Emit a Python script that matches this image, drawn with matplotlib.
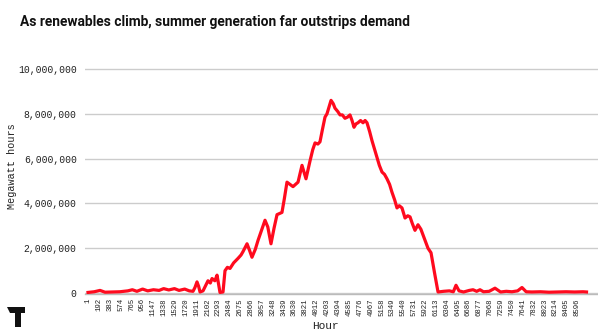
import matplotlib
matplotlib.use("Agg")
import matplotlib.pyplot as plt
from matplotlib.patches import Polygon

# ---- data ----
hours = [1, 110, 212, 300, 420, 560, 700, 780, 860, 960, 1050, 1150, 1250, 1330,
         1420, 1520, 1600, 1700, 1780, 1846, 1880, 1916, 1945, 1969, 2022, 2070,
         2109, 2150, 2180, 2230, 2268, 2295, 2320, 2373, 2408, 2450, 2496, 2560,
         2637, 2690, 2724, 2795, 2840, 2882, 2940, 2988, 3050, 3111, 3160, 3216,
         3270, 3322, 3409, 3450, 3497, 3550, 3603, 3691, 3761, 3831, 3902, 3950,
         3990, 4040, 4077, 4120, 4165, 4200, 4271, 4310, 4341, 4390, 4429, 4470,
         4516, 4560, 4604, 4640, 4675, 4710, 4745, 4790, 4833, 4870, 4903, 4950,
         4991, 5079, 5120, 5167, 5210, 5254, 5300, 5342, 5390, 5430, 5470, 5518,
         5571, 5620, 5659, 5700, 5746, 5799, 5850, 5887, 5930, 5975, 6028, 6090,
         6151, 6250, 6350, 6420, 6467, 6520, 6600, 6700, 6766, 6830, 6889, 6950,
         7050, 7152, 7250, 7350, 7450, 7550, 7626, 7700, 7800, 7950, 8100, 8250,
         8400, 8550, 8700, 8760]

surplus_mwh_millions = [
    0.03, 0.06, 0.12, 0.04, 0.05, 0.06, 0.10, 0.15, 0.08, 0.18, 0.10, 0.15, 0.12, 0.20,
    0.14, 0.20, 0.12, 0.18, 0.10, 0.08, 0.25, 0.50, 0.30, 0.05, 0.10, 0.35,
    0.55, 0.45, 0.65, 0.55, 0.80, 0.40, 0.03, 0.05, 1.00, 1.15, 1.10, 1.35,
    1.55, 1.70, 1.85, 2.20, 1.90, 1.60, 1.95, 2.35, 2.80, 3.25, 2.95, 2.20,
    2.90, 3.50, 3.60, 4.20, 4.95, 4.85, 4.75, 4.95, 5.70, 5.10, 5.90, 6.40,
    6.70, 6.65, 6.75, 7.30, 7.85, 8.00, 8.60, 8.45, 8.25, 8.10, 7.95, 7.95,
    7.80, 7.85, 7.95, 7.70, 7.40, 7.55, 7.60, 7.70, 7.60, 7.70, 7.60, 7.20,
    6.80, 6.05, 5.70, 5.40, 5.30, 5.10, 4.85, 4.50, 4.15, 3.80, 3.90, 3.80,
    3.35, 3.45, 3.40, 3.10, 2.80, 3.05, 2.85, 2.60, 2.30, 2.00, 1.80, 0.90,
    0.05, 0.08, 0.10, 0.06, 0.35, 0.10, 0.05, 0.12, 0.15, 0.08, 0.15, 0.06,
    0.08, 0.22, 0.05, 0.08, 0.06, 0.10, 0.25, 0.06, 0.05, 0.06, 0.04, 0.05,
    0.06, 0.05, 0.06, 0.05]

x_ticks = [1, 192, 383, 574, 765, 956, 1147, 1338, 1529, 1720, 1911, 2102, 2293,
           2484, 2675, 2866, 3057, 3248, 3439, 3630, 3821, 4012, 4203, 4394, 4585,
           4776, 4967, 5158, 5349, 5540, 5731, 5922, 6113, 6304, 6495, 6686, 6877,
           7068, 7259, 7450, 7641, 7832, 8023, 8214, 8405, 8596]
y_ticks = [0, 2000000, 4000000, 6000000, 8000000, 10000000]

title = "As renewables climb, summer generation far outstrips demand"

values = [v * 1e6 for v in surplus_mwh_millions]

W, H = 598, 336
fig = plt.figure(figsize=(W / 100, H / 100), dpi=100)
ax = fig.add_axes([85 / W, 1 - 294 / H, 1 - 85 / W, (294 - 60) / H])

mono = "Liberation Mono"
ax.plot(hours, values, color="#ff0a1e", lw=2.3, solid_joinstyle="round", zorder=3)

ax.set_xlim(-52, 8962)
ax.set_ylim(-0.04e6, 10.4e6)
ax.set_yticks(y_ticks)
ax.set_yticklabels([f"{v:,}" for v in y_ticks], fontfamily=mono, fontsize=7.0, color="#222222")
ax.set_xticks(x_ticks)
ax.set_xticklabels([str(t) for t in x_ticks], rotation=90, fontfamily=mono,
                   fontsize=5.3, color="#222222")
ax.tick_params(axis="both", length=0)
ax.tick_params(axis="y", pad=6)
ax.tick_params(axis="x", pad=3)
ax.grid(axis="y", color="#cccccc", lw=1.0)
ax.set_axisbelow(True)
for s in ["top", "right", "left"]:
    ax.spines[s].set_visible(False)
ax.spines["bottom"].set_color("#bbbbbb")
ax.spines["bottom"].set_linewidth(1.0)

fig.text(12 / W, 1 - 166 / H, "Megawatt hours", fontfamily=mono, fontsize=7.3,
         color="#222222", rotation=90, ha="center", va="center")
fig.text(312 / W, 1 - 326 / H, "Hour", fontfamily=mono, fontsize=8, color="#222222",
         ha="left", va="center")

fig.text(20 / W, 1 - 22 / H, title, fontfamily="Roboto", fontweight="bold",
         fontsize=9.9, color="#111111", ha="left", va="center")

# logo
pts = [(7, 307), (25, 307), (25, 312.5), (20.5, 312.5), (20.5, 326.5), (14.5, 326.5),
       (14.5, 312.5), (10, 312.5)]
logo = Polygon([(px / W, 1 - py / H) for px, py in pts], closed=True,
               transform=fig.transFigure, facecolor="#111111", edgecolor="none")
fig.patches.append(logo)

fig.savefig("out.png", dpi=100)
